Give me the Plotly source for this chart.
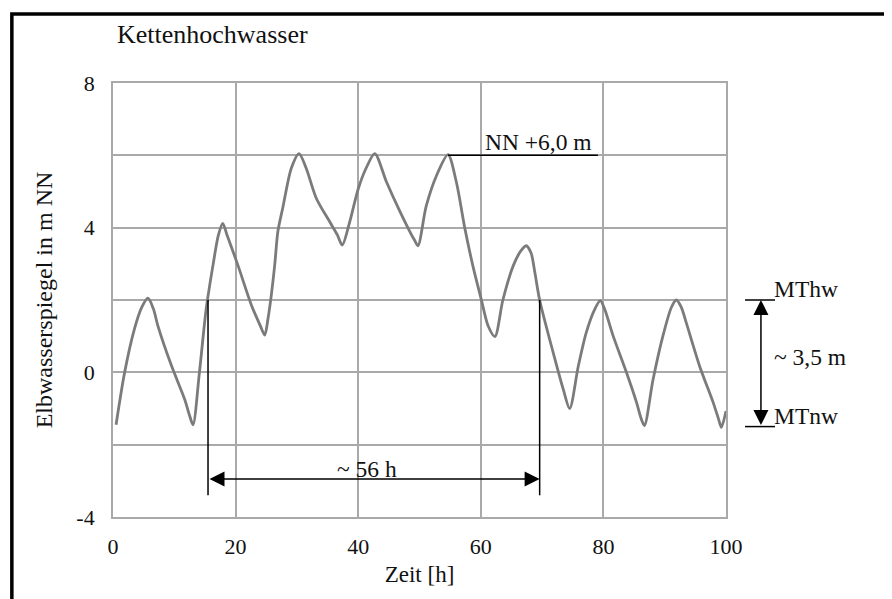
import plotly.graph_objects as go

# ---- data ----
time_h = [0.5, 1.9, 3.5, 4.7, 5.7, 6.6, 7.3, 9.5, 11.7, 12.5, 13.05, 14.1, 15.2, 16.3,
          17.2, 17.9, 18.6, 20.4, 22.6, 24.0, 24.75, 25.3, 25.8, 26.4, 26.9, 27.7, 29.1,
          30.35, 31.5, 33.2, 35.4, 36.6, 37.4, 38.6, 40.0, 41.3, 42.7, 44.6, 46.8, 48.4,
          49.2, 49.75, 51.1, 52.8, 54.65, 56.0, 57.4, 58.7, 60.1, 61.2, 62.3, 63.6, 65.3,
          66.5, 67.4, 68.2, 68.8, 69.6, 71.8, 73.5, 74.5, 75.9, 77.2, 78.6, 79.5, 80.2,
          81.6, 83.75, 85.4, 86.2, 86.7, 88.1, 89.7, 91.1, 91.9, 92.7, 93.5, 95.7, 97.9,
          98.8, 99.25, 100.0]
level_m = [-1.45, 0.0, 1.2, 1.8, 2.05, 1.75, 1.3, 0.2, -0.75, -1.2, -1.45, 0.0, 1.75, 2.95,
           3.8, 4.12, 3.8, 2.95, 1.85, 1.3, 1.03, 1.5, 2.1, 3.0, 3.9, 4.55, 5.65,
           6.05, 5.65, 4.8, 4.15, 3.8, 3.52, 4.15, 5.07, 5.65, 6.05, 5.27, 4.45, 3.9,
           3.65, 3.5, 4.6, 5.45, 6.02, 5.27, 3.98, 2.95, 2.0, 1.28, 0.99, 2.0, 2.95,
           3.35, 3.5, 3.3, 2.78, 2.0, 0.55, -0.5, -1.0, 0.17, 1.1, 1.75, 1.98, 1.75,
           1.0, 0.0, -0.83, -1.3, -1.47, -0.2, 1.0, 1.8, 2.0, 1.8, 1.38, 0.17, -0.83,
           -1.3, -1.52, -1.07]

x_ticks = [0, 20, 40, 60, 80, 100]
y_ticks = [-4, -2, 0, 2, 4, 6, 8]
y_ticktext = ["-4", "", "0", "", "4", "", "8"]

x_range = [0, 100]
y_range = [-4, 8]

peak_level = 6.0          # NN +6,0 m
peak_start, peak_line_end = 54.65, 79.1
dur_start, dur_end = 15.5, 69.6   # ~56 h
dur_level = -2.95
dur_line_bottom = -3.4
mthw, mtnw = 2.0, -1.5    # ~3,5 m

SERIF = "Liberation Serif, Times New Roman, serif"
GRID = "#a9a9a9"


def py(y):
    return (y - y_range[0]) / (y_range[1] - y_range[0])


fig = go.Figure()
fig.add_trace(go.Scatter(
    x=time_h, y=level_m, mode="lines",
    line=dict(color="#7b7b7b", width=2.8, shape="spline", smoothing=0.8),
    showlegend=False, hoverinfo="skip"))

shapes = [
    # outer black frame (left + top visible)
    dict(type="rect", xref="paper", yref="paper", x0=-0.165, x1=1.3, y0=-0.25, y1=1.159,
         line=dict(color="black", width=3.5), layer="below"),
    # NN +6,0 m line
    dict(type="line", xref="x", yref="y", x0=peak_start, x1=peak_line_end,
         y0=peak_level, y1=peak_level, line=dict(color="black", width=1.5)),
    # vertical lines for duration
    dict(type="line", xref="x", yref="y", x0=dur_start, x1=dur_start,
         y0=mthw, y1=dur_line_bottom, line=dict(color="black", width=1.5)),
    dict(type="line", xref="x", yref="y", x0=dur_end, x1=dur_end,
         y0=mthw, y1=dur_line_bottom, line=dict(color="black", width=1.5)),
    # MThw / MTnw ticks on the right
    dict(type="line", xref="paper", yref="paper", x0=1.031, x1=1.080,
         y0=py(mthw), y1=py(mthw), line=dict(color="black", width=1.5)),
    dict(type="line", xref="paper", yref="paper", x0=1.031, x1=1.080,
         y0=py(mtnw), y1=py(mtnw), line=dict(color="black", width=1.5)),
]

annotations = [
    dict(text="Kettenhochwasser", xref="paper", yref="paper", x=0.003, y=1.112,
         xanchor="left", yanchor="middle", showarrow=False,
         font=dict(family=SERIF, size=26, color="#111")),
    dict(text="NN +6,0 m", xref="x", yref="y", x=60.3, y=6.36,
         xanchor="left", yanchor="middle", showarrow=False,
         font=dict(family=SERIF, size=23.5, color="#111")),
    dict(text="~ 56 h", xref="x", yref="y", x=41.4, y=-2.66,
         xanchor="center", yanchor="middle", showarrow=False,
         font=dict(family=SERIF, size=23.5, color="#111")),
    # horizontal double arrow
    dict(text="", xref="x", yref="y", x=dur_end, y=dur_level,
         axref="x", ayref="y", ax=dur_start, ay=dur_level,
         showarrow=True, arrowside="end+start", arrowhead=2, arrowsize=2,
         arrowwidth=1.5, arrowcolor="black"),
    # vertical double arrow
    dict(text="", xref="paper", yref="y", x=1.057, y=mthw,
         axref="pixel", ayref="y", ax=0, ay=mtnw,
         showarrow=True, arrowside="end+start", arrowhead=2, arrowsize=2,
         arrowwidth=1.5, arrowcolor="black"),
    dict(text="MThw", xref="paper", yref="y", x=1.075, y=2.3,
         xanchor="left", yanchor="middle", showarrow=False,
         font=dict(family=SERIF, size=23.5, color="#111")),
    dict(text="~ 3,5 m", xref="paper", yref="y", x=1.075, y=0.42,
         xanchor="left", yanchor="middle", showarrow=False,
         font=dict(family=SERIF, size=23.5, color="#111")),
    dict(text="MTnw", xref="paper", yref="y", x=1.075, y=-1.22,
         xanchor="left", yanchor="middle", showarrow=False,
         font=dict(family=SERIF, size=23.5, color="#111")),
]

fig.update_layout(
    width=884, height=591,
    margin=dict(l=105, r=166, t=75, b=82, autoexpand=False),
    paper_bgcolor="white", plot_bgcolor="white",
    font=dict(family=SERIF, size=22, color="#111"),
    shapes=shapes, annotations=annotations,
    xaxis=dict(range=x_range, tickvals=x_ticks, showgrid=True, gridcolor=GRID, gridwidth=1.8,
               zeroline=False, showline=True, linecolor=GRID, linewidth=1.8, mirror=True,
               ticks="", ticklabelstandoff=9, tickfont=dict(size=22),
               title=dict(text="Zeit [h]", font=dict(size=23), standoff=8),
               fixedrange=True),
    yaxis=dict(range=y_range, tickvals=y_ticks, ticktext=y_ticktext, showgrid=True,
               gridcolor=GRID, gridwidth=1.8, zeroline=False, showline=True, linecolor=GRID,
               linewidth=1.8, mirror=True, ticks="", ticklabelstandoff=12,
               tickfont=dict(size=22),
               title=dict(text="Elbwasserspiegel in m NN", font=dict(size=24), standoff=17),
               fixedrange=True),
)

fig.write_html("out.html")
